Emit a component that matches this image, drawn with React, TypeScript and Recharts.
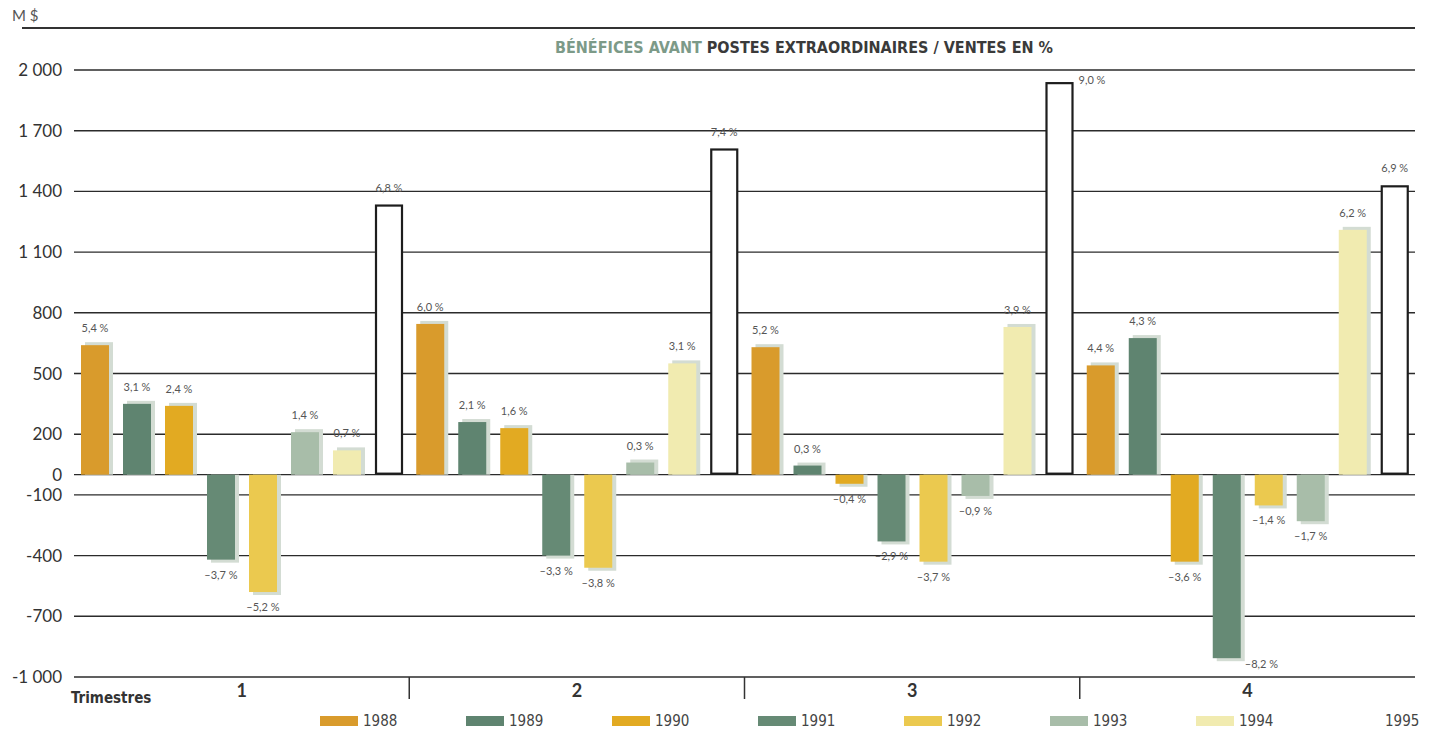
import { Bar, BarChart, CartesianGrid, LabelList, XAxis, YAxis } from 'recharts';

const quarters = ['1', '2', '3', '4'];
const years = ['1988', '1989', '1990', '1991', '1992', '1993', '1994', '1995'];

// bénéfices avant postes extraordinaires, M $
const profit1988 = [640, 745, 630, 540];
const profit1989 = [350, 260, 45, 675];
const profit1990 = [340, 230, -45, -430];
const profit1991 = [-420, -400, -330, -907];
const profit1992 = [-580, -460, -430, -152];
const profit1993 = [210, 60, -105, -230];
const profit1994 = [120, 550, 730, 1210];
const profit1995 = [1335, 1612, 1940, 1430];

// bénéfices / ventes, %
const pct1988 = [5.4, 6.0, 5.2, 4.4];
const pct1989 = [3.1, 2.1, 0.3, 4.3];
const pct1990 = [2.4, 1.6, -0.4, -3.6];
const pct1991 = [-3.7, -3.3, -2.9, -8.2];
const pct1992 = [-5.2, -3.8, -3.7, -1.4];
const pct1993 = [1.4, 0.3, -0.9, -1.7];
const pct1994 = [0.7, 3.1, 3.9, 6.2];
const pct1995 = [6.8, 7.4, 9.0, 6.9];

const yTicks = [-1000, -700, -400, -100, 0, 200, 500, 800, 1100, 1400, 1700, 2000];

const profits = [profit1988, profit1989, profit1990, profit1991, profit1992, profit1993, profit1994, profit1995];
const pcts = [pct1988, pct1989, pct1990, pct1991, pct1992, pct1993, pct1994, pct1995];

const colors = ['#d99b2c', '#5f8470', '#e2aa22', '#668a75', '#ebc94f', '#a8bda9', '#f1ebb0', '#ffffff'];

const FONT = 'Lato, "Open Sans", sans-serif';
const NARROW = '"Liberation Sans Narrow", "DejaVu Sans Condensed", sans-serif';

const data = quarters.map((q, i) => {
  const row: Record<string, string | number> = { quarter: q };
  years.forEach((y, s) => {
    row[`v${y}`] = profits[s][i];
    row[`p${y}`] = pcts[s][i];
  });
  return row;
});

const fmtTick = (v: number) => String(v).replace(/\B(?=(\d{3})+(?!\d))/g, ' ');
const fmtPct = (v: number) => `${v < 0 ? '–' : ''}${Math.abs(v).toFixed(1).replace('.', ',')} %`;

function makeShape(outline: boolean) {
  return (props: any) => {
    const { x, y, width, height, fill } = props;
    const v = Array.isArray(props.value) ? props.value[1] : props.value;
    const top = Math.min(y, y + height);
    const h = Math.abs(height);
    if (outline) {
      return (
        <rect x={x + 1} y={top + 1} width={width - 2} height={h - 2} fill="#fff" stroke="#1d1d1d" strokeWidth={2.2} />
      );
    }
    const up = v >= 0;
    return (
      <g>
        <rect x={x + 4} y={up ? top - 3 : top} width={width} height={h + 3} fill="#d3dcd3" />
        <rect x={x} y={top} width={width} height={h} fill={fill} />
      </g>
    );
  };
}

function PctLabel(props: any) {
  const { x, y, width, height, value } = props;
  if (value == null) return null;
  const top = Math.min(y, y + height);
  const bottom = Math.max(y, y + height);
  const neg = value < 0;
  let tx = x + width / 2;
  let ty = neg ? bottom + 19 : top - 13;
  let anchor: 'middle' | 'start' = 'middle';
  if (!neg && top < 100) {
    tx = x + width + 5;
    ty = top + 2;
    anchor = 'start';
  } else if (neg && bottom > 640) {
    tx = x + width + 4;
    ty = bottom + 10;
    anchor = 'start';
  }
  return (
    <text x={tx} y={ty} textAnchor={anchor} fontSize={11} fill="#555" fontFamily={FONT}>
      {fmtPct(value)}
    </text>
  );
}

function QuarterTick(props: any) {
  const { x, y, payload, index } = props;
  const half = payload.offset ?? 0;
  const last = index === quarters.length - 1;
  return (
    <g>
      <text x={x} y={y + 12} textAnchor="middle" fontSize={18} fontWeight={700} fill="#333" fontFamily={FONT}>
        {payload.value}
      </text>
      {!last && half > 0 && (
        <line x1={x + half} x2={x + half} y1={y - 8} y2={y + 14} stroke="#333" strokeWidth={1.5} />
      )}
      {index === 0 && half > 0 && (
        <text x={x - half - 3} y={y + 18} fontSize={15} fontWeight={700} fill="#333" fontFamily={NARROW}>
          Trimestres
        </text>
      )}
    </g>
  );
}

export default function App() {
  return (
    <div style={{ position: 'absolute', left: 0, top: 0, width: 1430, height: 730, background: '#fff' }}>
      <div style={{ position: 'absolute', left: 12, top: 6, fontSize: 15, color: '#555', fontFamily: FONT }}>M $</div>
      <div style={{ position: 'absolute', left: 22, top: 27, width: 1393, borderTop: '2px solid #333' }} />
      <div
        style={{
          position: 'absolute',
          left: 555,
          top: 38,
          fontSize: 16,
          fontWeight: 700,
          fontFamily: NARROW,
          whiteSpace: 'nowrap',
        }}
      >
        <span style={{ color: '#7c9a88' }}>BÉNÉFICES AVANT </span>
        <span style={{ color: '#3a3a3a' }}>POSTES EXTRAORDINAIRES / VENTES EN %</span>
      </div>

      <BarChart
        width={1430}
        height={730}
        data={data}
        margin={{ top: 70, right: 15, left: 0, bottom: 23 }}
        barSize={28}
        barGap={14}
        style={{ position: 'absolute', left: 0, top: 0 }}
      >
        <CartesianGrid vertical={false} stroke="#2b2b2b" strokeWidth={1.4} />
        <YAxis
          type="number"
          domain={[-1000, 2000]}
          ticks={yTicks}
          interval={0}
          width={74}
          axisLine={false}
          tickLine={false}
          tickMargin={6}
          tickFormatter={fmtTick}
          tick={{ fontSize: 17, fill: '#333', fontFamily: FONT }}
        />
        <XAxis
          dataKey="quarter"
          height={30}
          axisLine={false}
          tickLine={false}
          interval={0}
          tick={<QuarterTick />}
        />
        {years.map((yr, s) => (
          <Bar
            key={yr}
            dataKey={`v${yr}`}
            fill={colors[s]}
            shape={makeShape(s === years.length - 1)}
            isAnimationActive={false}
          >
            <LabelList dataKey={`p${yr}`} content={<PctLabel />} />
          </Bar>
        ))}
      </BarChart>

      <div style={{ position: 'absolute', left: 320, top: 712, display: 'flex', fontFamily: NARROW }}>
        {years.map((yr, s) => (
          <div key={yr} style={{ width: 146, display: 'flex', alignItems: 'center', gap: 5 }}>
            <span style={{ width: 38, height: 10, background: colors[s], display: 'inline-block' }} />
            <span style={{ fontSize: 15, color: '#444' }}>{yr}</span>
          </div>
        ))}
      </div>
    </div>
  );
}
